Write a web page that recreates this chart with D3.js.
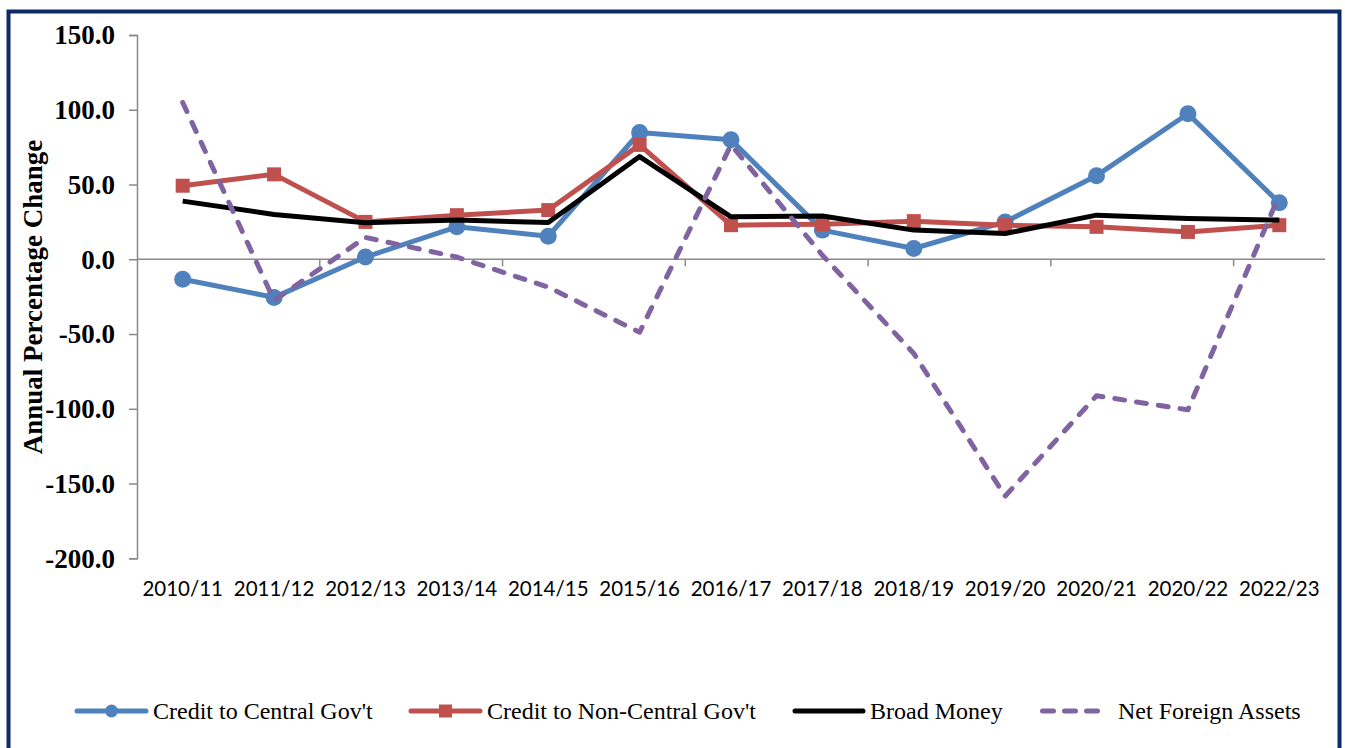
<!DOCTYPE html>
<html>
<head>
<meta charset="utf-8">
<script src="https://cdn.jsdelivr.net/npm/d3@7"></script>
<style>
  html, body { margin: 0; padding: 0; background: #fff; }
  svg { display: block; }
</style>
</head>
<body>
<svg id="chart" width="1345" height="748"></svg>
<script>
const categories = ["2010/11","2011/12","2012/13","2013/14","2014/15","2015/16","2016/17","2017/18","2018/19","2019/20","2020/21","2020/22","2022/23"];
const creditCentral = [-13.4, -25.5, 1.5, 21.7, 15.4, 84.8, 79.9, 19.5, 7.2, 25.0, 55.9, 97.3, 37.8];
const creditNonCentral = [49.2, 56.8, 25.0, 29.5, 32.9, 76.5, 22.8, 23.5, 25.5, 22.8, 21.7, 18.3, 22.8];
const broadMoney = [38.9, 30.0, 24.4, 26.2, 24.6, 68.7, 28.4, 28.9, 19.5, 17.2, 29.5, 27.3, 26.2];
const netForeignAssets = [104.9, -27.5, 14.6, 1.5, -18.6, -48.8, 76.5, 2.7, -63.0, -158.4, -91.3, -100.7, 43.0];
const yTicks = [-200, -150, -100, -50, 0, 50, 100, 150];
const seriesNames = ["Credit to Central Gov't", "Credit to Non-Central Gov't", "Broad Money", "Net Foreign Assets"];
const yTitle = "Annual Percentage Change";

(function () {
const svg = d3.select("#chart");
const plotL = 137, plotR = 1325, plotT = 35, plotB = 558.3;

const serif = "'Liberation Serif', 'Times New Roman', serif";
const sans = "Lato, 'Open Sans', sans-serif";
const axisColor = "#898989";

// frame
svg.append("rect").attr("x", 8.5).attr("y", 11.5).attr("width", 1331).attr("height", 760)
  .attr("fill", "none").attr("stroke", "#0e2a6a").attr("stroke-width", 4);

const x = d3.scaleBand().domain(categories).range([plotL, plotR]).paddingInner(0).paddingOuter(0);
const cx = d => x(d) + x.bandwidth() / 2;
const y = d3.scaleLinear().domain([-200, 150]).range([plotB, plotT]);

// Y axis
const yAxis = d3.axisLeft(y).tickValues(yTicks).tickSize(8).tickPadding(14).tickFormat(d => d.toFixed(1));
const yg = svg.append("g").attr("transform", `translate(${plotL},0)`).call(yAxis);
yg.select(".domain").attr("stroke", axisColor).attr("stroke-width", 1.5);
yg.selectAll(".tick line").attr("stroke", axisColor).attr("stroke-width", 1.5);
yg.selectAll(".tick text").attr("font-family", serif).attr("font-weight", "bold").attr("font-size", 27)
  .attr("fill", "#000").attr("dy", "0.33em");

// X axis line at zero
const xg = svg.append("g").attr("transform", `translate(0,${y(0)})`);
xg.append("line").attr("x1", plotL).attr("x2", plotR).attr("stroke", axisColor).attr("stroke-width", 1.5);
xg.selectAll("line.tk").data(categories.filter((d, i) => i > 0 && i % 2 === 0)).enter()
  .append("line").attr("class", "tk")
  .attr("x1", d => x(d)).attr("x2", d => x(d)).attr("y1", 0).attr("y2", 7)
  .attr("stroke", axisColor).attr("stroke-width", 1.5);

// X labels (low position)
const xl = d3.axisBottom(x).tickSize(0).tickPadding(0);
const xlg = svg.append("g").attr("transform", `translate(0,${plotB})`).call(xl);
xlg.select(".domain").remove();
xlg.selectAll(".tick text").attr("font-family", sans).attr("font-size", 20.5).attr("fill", "#000")
  .attr("y", 38).attr("dy", 0);

// Y title
svg.append("text").attr("transform", `translate(33,297) rotate(-90)`)
  .attr("text-anchor", "middle").attr("dominant-baseline", "central")
  .attr("font-family", serif).attr("font-weight", "bold").attr("font-size", 27)
  .text(yTitle);

const line = d3.line().x((d, i) => cx(categories[i])).y(d => y(d));

const colors = ["#4f81bd", "#c0504d", "#000000", "#8064a2"];

// Blue
svg.append("path").datum(creditCentral).attr("d", line).attr("fill", "none")
  .attr("stroke", colors[0]).attr("stroke-width", 5).attr("stroke-linejoin", "round");
svg.selectAll("circle.cc").data(creditCentral).enter().append("circle").attr("class", "cc")
  .attr("cx", (d, i) => cx(categories[i])).attr("cy", d => y(d)).attr("r", 8.5).attr("fill", colors[0]);

// Red
svg.append("path").datum(creditNonCentral).attr("d", line).attr("fill", "none")
  .attr("stroke", colors[1]).attr("stroke-width", 5).attr("stroke-linejoin", "round");
svg.selectAll("rect.nc").data(creditNonCentral).enter().append("rect").attr("class", "nc")
  .attr("x", (d, i) => cx(categories[i]) - 7).attr("y", d => y(d) - 7)
  .attr("width", 14).attr("height", 14).attr("fill", colors[1]);

// Black
svg.append("path").datum(broadMoney).attr("d", line).attr("fill", "none")
  .attr("stroke", colors[2]).attr("stroke-width", 5).attr("stroke-linejoin", "round");

// Purple dashed
svg.append("path").datum(netForeignAssets).attr("d", line).attr("fill", "none")
  .attr("stroke", colors[3]).attr("stroke-width", 5).attr("stroke-linejoin", "round")
  .attr("stroke-linecap", "round").attr("stroke-dasharray", "10,12");

// Legend
const legendY = 711;
const legendItems = [
  {x0: 77, x1: 146, tx: 153, marker: "circle"},
  {x0: 411, x1: 480, tx: 487, marker: "square"},
  {x0: 795, x1: 863, tx: 870, marker: null},
  {x0: 1042.5, x1: 1099.5, tx: 1118, marker: null, dash: true}
];
legendItems.forEach((it, i) => {
  const g = svg.append("g");
  g.append("line").attr("x1", it.x0).attr("x2", it.x1).attr("y1", legendY).attr("y2", legendY)
    .attr("stroke", colors[i]).attr("stroke-width", 5).attr("stroke-linecap", "round")
    .attr("stroke-dasharray", it.dash ? "11,11" : null);
  const mx = (it.x0 + it.x1) / 2;
  if (it.marker === "circle") g.append("circle").attr("cx", mx).attr("cy", legendY).attr("r", 6.5).attr("fill", colors[i]);
  if (it.marker === "square") g.append("rect").attr("x", mx - 6.5).attr("y", legendY - 6.5).attr("width", 13).attr("height", 13).attr("fill", colors[i]);
  g.append("text").attr("x", it.tx).attr("y", legendY).attr("dy", "0.33em")
    .attr("font-family", serif).attr("font-size", 24).attr("fill", "#000").text(seriesNames[i]);
});
})();
</script>
</body>
</html>
